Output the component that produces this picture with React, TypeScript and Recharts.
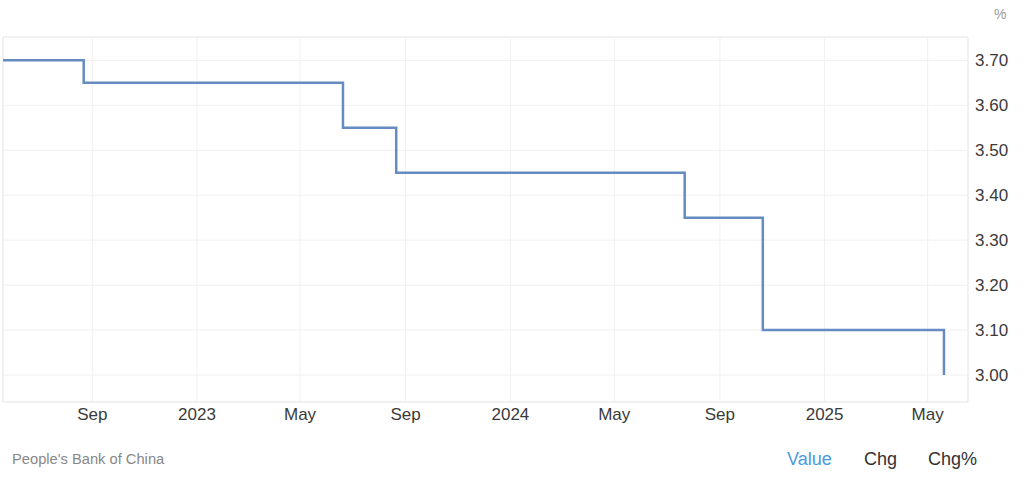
import { LineChart, Line, XAxis, YAxis, CartesianGrid, ReferenceArea } from 'recharts'

const changeDates = ['2022-05-20', '2022-08-22', '2023-06-20', '2023-08-21', '2024-07-22', '2024-10-21', '2025-05-20']
const rates = [3.7, 3.65, 3.55, 3.45, 3.35, 3.1, 3.0]
const tickDates = ['2022-09-01', '2023-01-01', '2023-05-01', '2023-09-01', '2024-01-01', '2024-05-01', '2024-09-01', '2025-01-01', '2025-05-01']
const tickLabels = ['Sep', '2023', 'May', 'Sep', '2024', 'May', 'Sep', '2025', 'May']
const yTicks = [3.0, 3.1, 3.2, 3.3, 3.4, 3.5, 3.6, 3.7]

const ts = (d: string) => new Date(d + 'T00:00:00Z').getTime()

const data = changeDates.map((d, i) => ({ t: ts(d), value: rates[i] }))
const xTicks = tickDates.map(ts)
const xStart = ts('2022-05-20')
const xEnd = ts('2025-06-17')
const yMin = 2.94
const yMax = 3.752

const font = '"Liberation Sans", Arial, sans-serif'

export default function App() {
  const labelFor = (v: number) => tickLabels[xTicks.indexOf(v)] ?? ''

  return (
    <div style={{ position: 'absolute', left: 0, top: 0, width: 1024, height: 482, background: '#fff', fontFamily: font }}>
      <LineChart width={1024} height={482} data={data} margin={{ top: 37, right: 6, bottom: 50, left: 3 }}>
        <CartesianGrid stroke="#f0f0f0" strokeWidth={1} />
        <ReferenceArea x1={xStart} x2={xEnd} y1={yMin} y2={yMax} fill="none" stroke="#ebebeb" strokeWidth={1} ifOverflow="extendDomain" />
        <XAxis
          dataKey="t"
          type="number"
          scale="time"
          domain={[xStart, xEnd]}
          ticks={xTicks}
          tickFormatter={labelFor}
          axisLine={false}
          tickLine={false}
          height={30}
          tick={{ fontSize: 17, fill: '#3a3a3a', fontFamily: font }}
          tickMargin={0}
        />
        <YAxis
          orientation="right"
          type="number"
          domain={[yMin, yMax]}
          ticks={yTicks}
          tickFormatter={(v: number) => v.toFixed(2)}
          axisLine={false}
          tickLine={false}
          width={50}
          tick={{ fontSize: 17, fill: '#3a3a3a', fontFamily: font, textAnchor: 'start' }}
          tickMargin={1}
        />
        <Line
          type="stepAfter"
          dataKey="value"
          stroke="#658bc2"
          strokeWidth={2.5}
          dot={false}
          activeDot={false}
          isAnimationActive={false}
        />
      </LineChart>
      <div style={{ position: 'absolute', left: 994, top: 6, fontSize: 14, color: '#999' }}>%</div>
      <div style={{ position: 'absolute', left: 12, top: 451, fontSize: 14.7, color: '#888' }}>People's Bank of China</div>
      <div style={{ position: 'absolute', left: 787, top: 449, fontSize: 18, color: '#4a9be0' }}>Value</div>
      <div style={{ position: 'absolute', left: 864, top: 449, fontSize: 18, color: '#333' }}>Chg</div>
      <div style={{ position: 'absolute', left: 928, top: 449, fontSize: 18, color: '#333' }}>Chg%</div>
    </div>
  )
}
